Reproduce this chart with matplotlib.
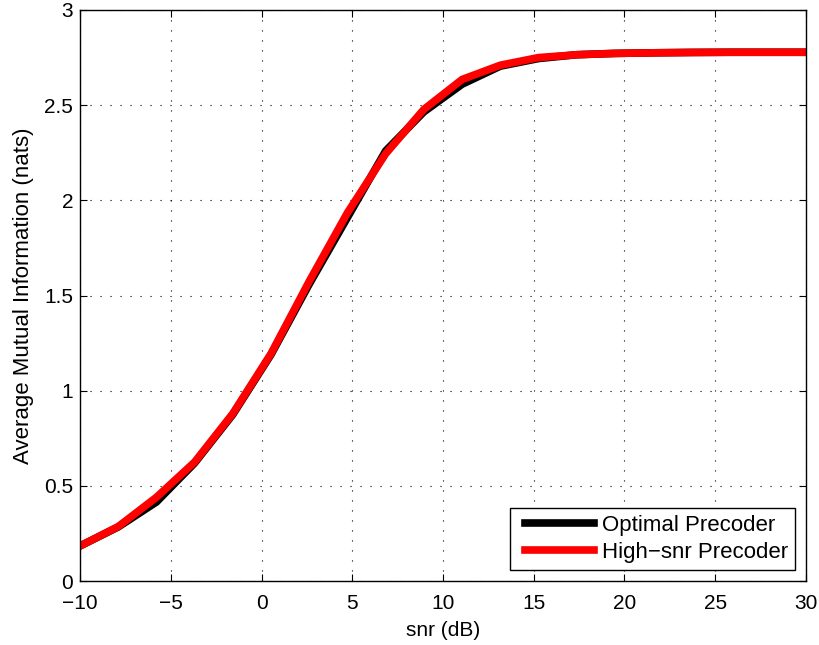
import numpy as np
import matplotlib
matplotlib.use("Agg")
import matplotlib.pyplot as plt
from matplotlib.lines import Line2D
from matplotlib.legend_handler import HandlerLine2D

"""Data"""
snr_db = np.linspace(-10, 30, 20)
mi_optimal = [0.184, 0.284, 0.415, 0.62, 0.875, 1.19, 1.56, 1.91, 2.26, 2.465,
              2.61, 2.705, 2.745, 2.765, 2.772, 2.775, 2.777, 2.778, 2.778, 2.778]
mi_highsnr = [0.184, 0.286, 0.44, 0.625, 0.88, 1.195, 1.575, 1.935, 2.245, 2.478,
              2.635, 2.71, 2.75, 2.765, 2.772, 2.775, 2.777, 2.778, 2.778, 2.778]
xticks = [-10, -5, 0, 5, 10, 15, 20, 25, 30]
yticks = [0, 0.5, 1, 1.5, 2, 2.5, 3]

plt.rcParams['font.family'] = ['Liberation Sans', 'DejaVu Sans']
plt.rcParams['font.size'] = 15

fig = plt.figure(figsize=(8.19, 6.45), dpi=100)
ax = fig.add_axes([0.0977, 0.0992, 0.8864, 0.8853])

ax.plot(snr_db, mi_optimal, color='black', lw=5.5, label='Optimal Precoder')
ax.plot(snr_db, mi_highsnr, color='red', lw=5.5, label='High\u2212snr Precoder')

ax.set_xlim(-10, 30)
ax.set_ylim(0, 3)
ax.set_xticks(xticks)
ax.set_yticks(yticks)
ax.set_xticklabels([str(v).replace('-', '\u2212') for v in xticks])
ax.set_yticklabels(['%g' % v for v in yticks])
ax.tick_params(direction='in', top=True, right=True, length=5, width=0.8)
ax.tick_params(axis='x', pad=9)
ax.tick_params(axis='y', pad=5)
ax.grid(True, color='black', linestyle=(0, (1, 8)), linewidth=0.8)
for s in ax.spines.values():
    s.set_linewidth(1)

ax.set_xlabel('snr (dB)', labelpad=6)
ax.set_ylabel('Average Mutual Information (nats)', fontsize=16, labelpad=7)

leg = ax.legend(loc='lower right', fancybox=False, edgecolor='black',
                framealpha=1, handlelength=3.48, borderaxespad=0.5,
                fontsize=16, handletextpad=0.36, borderpad=0.3, labelspacing=0.3,
                handler_map={Line2D: HandlerLine2D(xpad=0.37)})
leg.get_frame().set_linewidth(1)

fig.savefig('out.png', dpi=100)
print("end of script")
